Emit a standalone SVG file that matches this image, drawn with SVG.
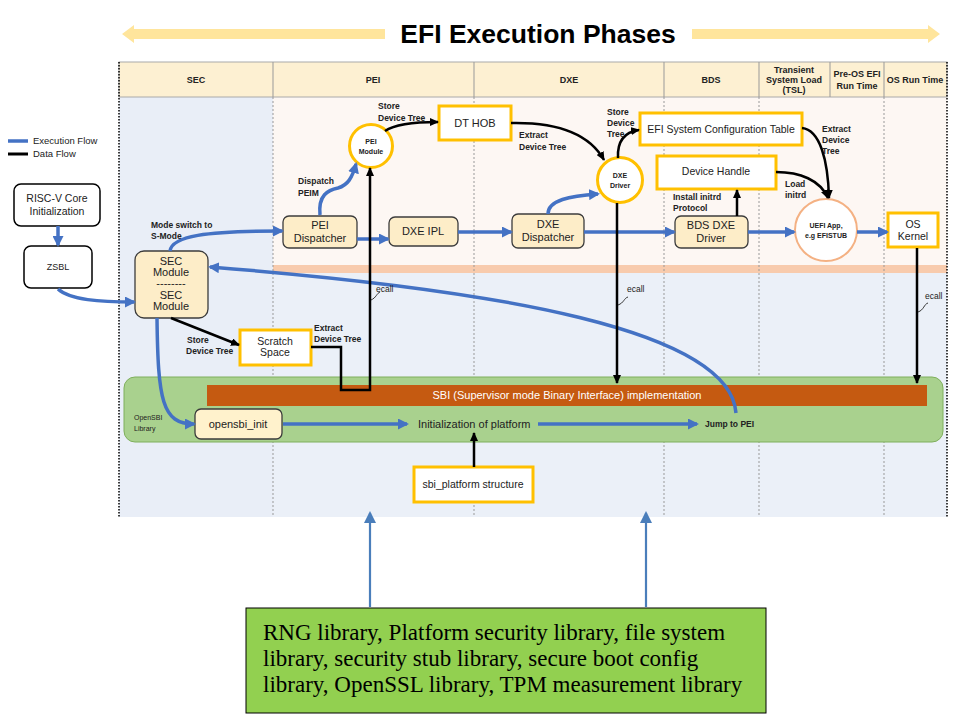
<svg xmlns="http://www.w3.org/2000/svg" width="969" height="719" viewBox="0 0 969 719">
<defs>
<marker id="ab" markerUnits="userSpaceOnUse" markerWidth="11" markerHeight="11" refX="9" refY="5.5" orient="auto"><path d="M0,0 L11,5.5 L0,11 z" fill="#4472C4"/></marker>
<marker id="ak" markerUnits="userSpaceOnUse" markerWidth="9" markerHeight="8" refX="8" refY="4" orient="auto"><path d="M0,0 L9,4 L0,8 z" fill="#000"/></marker>
<marker id="as" markerUnits="userSpaceOnUse" markerWidth="12" markerHeight="12" refX="10" refY="6" orient="auto"><path d="M0,0 L12,6 L0,12 z" fill="#4A7EBB"/></marker>
<style>
text{font-family:"Liberation Sans",Arial,sans-serif;fill:#222}
.h{font-size:9px;font-weight:bold;text-anchor:middle}
.n{font-size:11px;text-anchor:middle}
.s{font-size:10.5px;text-anchor:middle}
.b{font-size:8.5px;font-weight:bold}
.c{font-size:7px;font-weight:bold;text-anchor:middle}
.t{font-family:"Liberation Serif","Times New Roman",serif;font-size:23px;fill:#000}
.tan{fill:#FDEDC8;stroke:#3c3c3c;stroke-width:1.3}
.yel{fill:#fff;stroke:#FFC000;stroke-width:3}
.blk{fill:#fff;stroke:#000;stroke-width:1.5}
.ef{fill:none;stroke:#4472C4;stroke-width:3.5;marker-end:url(#ab)}
.df{fill:none;stroke:#000;stroke-width:2.5;marker-end:url(#ak)}
.ld{fill:none;stroke:#333;stroke-width:1}
.vs{stroke:#999;stroke-width:1;stroke-dasharray:2,2}
</style>
</defs>

<!-- title -->
<g id="title">
<path d="M122,34 L134,25 L134,29 L385,29 L385,39 L134,39 L134,43 z" fill="#FFE59C"/>
<path d="M940,34 L928,25 L928,29 L692,29 L692,39 L928,39 L928,43 z" fill="#FFE59C"/>
<text x="538" y="43" text-anchor="middle" style="font-size:26.5px;font-weight:bold;fill:#000">EFI Execution Phases</text>
</g>

<!-- backgrounds -->
<g id="background">
<rect x="119" y="97" width="154" height="420" fill="#E9EEF7"/>
<rect x="273" y="97" width="674" height="168" fill="#FDF7F3"/>
<rect x="273" y="265" width="674" height="8" fill="#F8CBAD"/>
<rect x="273" y="273" width="674" height="244" fill="#EBF0F8"/>
<rect x="119" y="62" width="828" height="35" fill="#FDF0D2" stroke="#aaa" stroke-width="1"/>
<line x1="273" y1="62" x2="273" y2="97" stroke="#999"/>
<line x1="474" y1="62" x2="474" y2="97" stroke="#999"/>
<line x1="664" y1="62" x2="664" y2="97" stroke="#999"/>
<line x1="759" y1="62" x2="759" y2="97" stroke="#999"/>
<line x1="830" y1="62" x2="830" y2="97" stroke="#999"/>
<line x1="884" y1="62" x2="884" y2="97" stroke="#999"/>
<line class="vs" x1="273" y1="97" x2="273" y2="517"/>
<line class="vs" x1="474" y1="97" x2="474" y2="517"/>
<line class="vs" x1="664" y1="97" x2="664" y2="517"/>
<line class="vs" x1="759" y1="97" x2="759" y2="517"/>
<line class="vs" x1="884" y1="97" x2="884" y2="517"/>
<line x1="119" y1="62" x2="119" y2="517" stroke="#000" stroke-width="1.5" stroke-dasharray="1.5,1.5"/>
<line x1="947" y1="62" x2="947" y2="517" stroke="#000" stroke-width="1.5" stroke-dasharray="1.5,1.5"/>
<text class="h" x="196" y="83">SEC</text>
<text class="h" x="373" y="83">PEI</text>
<text class="h" x="569" y="83">DXE</text>
<text class="h" x="711" y="83">BDS</text>
<text class="h" x="794" y="73">Transient</text>
<text class="h" x="794" y="83">System Load</text>
<text class="h" x="794" y="93">(TSL)</text>
<text class="h" x="857" y="77">Pre-OS EFI</text>
<text class="h" x="857" y="89">Run Time</text>
<text class="h" x="915" y="83">OS Run Time</text>
</g>

<!-- legend -->
<g id="legend">
<line x1="8" y1="141" x2="28" y2="141" stroke="#4472C4" stroke-width="3.5"/>
<text x="33" y="144" style="font-size:9.5px">Execution Flow</text>
<line x1="8" y1="154" x2="28" y2="154" stroke="#000" stroke-width="3"/>
<text x="33" y="157" style="font-size:9.5px">Data Flow</text>
</g>

<!-- OpenSBI -->
<g id="opensbi">
<rect x="124" y="377" width="819" height="65" rx="11" fill="#A9D18E" stroke="#7FAF5C" stroke-width="1"/>
<text x="134" y="420" style="font-size:7px">OpenSBI</text>
<text x="134" y="431" style="font-size:7px">Library</text>
</g>
<g id="sbi">
<rect x="207" y="385" width="720" height="21" fill="#C55A11"/>
<text x="567" y="399" text-anchor="middle" style="font-size:11px;fill:#fff">SBI (Supervisor mode Binary Interface) implementation</text>
</g>

<!-- nodes -->
<g id="riscv"><rect class="blk" x="14" y="184" width="86" height="42" rx="7"/><text class="s" x="57" y="202">RISC-V Core</text><text class="s" x="57" y="215">Initialization</text></g>
<g id="zsbl"><rect class="blk" x="24" y="246" width="68" height="42" rx="7"/><text x="58" y="270" text-anchor="middle" style="font-size:9px">ZSBL</text></g>
<g id="sec"><rect class="tan" x="135" y="251" width="73" height="67" rx="9"/>
<text class="n" x="171" y="265">SEC</text><text class="n" x="171" y="276">Module</text><text class="n" x="171" y="287">--------</text><text class="n" x="171" y="299">SEC</text><text class="n" x="171" y="310">Module</text></g>
<g id="peidisp"><rect class="tan" x="283" y="216" width="74" height="32" rx="6"/><text class="n" x="320" y="229">PEI</text><text class="n" x="320" y="242">Dispatcher</text></g>
<g id="dxeipl"><rect class="tan" x="389" y="217" width="69" height="29" rx="6"/><text class="n" x="423" y="235">DXE IPL</text></g>
<g id="dxedisp"><rect class="tan" x="512" y="214" width="72" height="34" rx="6"/><text class="n" x="548" y="228">DXE</text><text class="n" x="548" y="241">Dispatcher</text></g>
<g id="bdsdxe"><rect class="tan" x="675" y="216" width="73" height="32" rx="6"/><text class="n" x="711" y="229">BDS DXE</text><text class="n" x="711" y="242">Driver</text></g>
<g id="peimod"><circle cx="371" cy="146" r="21.5" fill="#fff" stroke="#FFC000" stroke-width="3"/><text class="c" x="371" y="144">PEI</text><text class="c" x="371" y="154">Module</text></g>
<g id="dthob"><rect class="yel" x="439" y="106" width="72" height="34"/><text class="n" x="475" y="127">DT HOB</text></g>
<g id="dxedrv"><circle cx="620" cy="180" r="22.5" fill="#fff" stroke="#FFC000" stroke-width="3"/><text class="c" x="620" y="178">DXE</text><text class="c" x="620" y="188">Driver</text></g>
<g id="efisct"><rect class="yel" x="640" y="113" width="162" height="32"/><text class="s" x="721" y="133">EFI System Configuration Table</text></g>
<g id="devhandle"><rect class="yel" x="657" y="156" width="119" height="33"/><text class="s" x="716" y="175">Device Handle</text></g>
<g id="uefiapp"><circle cx="826" cy="230" r="31" fill="#fff" stroke="#F4B183" stroke-width="2"/><text class="c" x="826" y="228">UEFI App,</text><text class="c" x="826" y="238">e.g EFISTUB</text></g>
<g id="oskernel"><rect class="yel" x="888" y="213" width="50" height="34"/><text class="s" x="913" y="228">OS</text><text class="s" x="913" y="240">Kernel</text></g>
<g id="scratch"><rect class="yel" x="240" y="330" width="71" height="35"/><text class="s" x="275" y="345">Scratch</text><text class="s" x="275" y="356">Space</text></g>
<g id="opensbiinit"><rect x="195" y="409" width="87" height="30" rx="6" fill="#FFF2CC" stroke="#3c3c3c" stroke-width="1.3"/><text class="n" x="238" y="428">opensbi_init</text></g>
<g id="initplat"><text x="418" y="428" style="font-size:11px">Initialization of platform</text></g>
<g id="jumppei"><text x="705" y="427" style="font-size:8.5px;font-weight:bold">Jump to PEI</text></g>
<g id="sbiplat"><rect class="yel" x="414" y="467" width="119" height="35"/><text class="s" x="473" y="488">sbi_platform structure</text></g>
<g id="libs"><rect x="246" y="608" width="520" height="105" fill="#92D050" stroke="#000" stroke-width="1"/>
<text class="t" x="263" y="640">RNG library, Platform security library, file system</text>
<text class="t" x="263" y="666">library, security stub library, secure boot config</text>
<text class="t" x="263" y="692">library, OpenSSL library, TPM measurement library</text></g>

<!-- connectors -->
<g id="connectors">
<path class="ef" d="M58,226 L58,245"/>
<path class="ef" d="M58,289 C70,300 100,302 134,302"/>
<path class="ef" d="M170,251 C172,236 205,231 282,231"/>
<path class="ef" d="M357,239 L388,239"/>
<path class="ef" d="M458,232 L511,232"/>
<path class="ef" d="M584,232 L674,232"/>
<path class="ef" d="M748,232 L794,232"/>
<path class="ef" d="M857,232 L887,232"/>
<path class="ef" d="M320,215 C318,195 328,190 338,188 C348,185 352,178 356,164"/>
<path class="ef" d="M548,214 C548,200 570,196 598,194"/>
<path class="ef" d="M736,413 C730,330 500,290 210,267"/>
<path class="ef" d="M157,318 C158,400 162,424 194,424"/>
<path class="ef" d="M283,424 L407,424"/>
<path class="ef" d="M538,424 L697,424"/>
<path class="df" d="M385,131 C395,124 415,122 438,122"/>
<path class="df" d="M511,123 C560,122 590,135 604,160"/>
<path class="df" d="M618,158 C617,140 625,132 639,130"/>
<path class="df" d="M737,216 L737,190"/>
<path class="df" d="M776,172 C800,172 820,180 828,198"/>
<path class="df" d="M802,128 C820,130 828,160 829,198"/>
<path class="df" d="M171,318 L239,345"/>
<path class="df" d="M311,347 L341,347 L341,390 L370,390 L370,168"/>
<path class="df" d="M617,203 L617,383"/>
<path class="df" d="M917,248 L917,383"/>
<path class="df" d="M474,467 L474,433"/>
<path d="M370,607 L370,513" fill="none" stroke="#4A7EBB" stroke-width="2.2" marker-end="url(#as)"/>
<path d="M646,607 L646,513" fill="none" stroke="#4A7EBB" stroke-width="2.2" marker-end="url(#as)"/>
<path class="ld" d="M371,300 C376,298 377,293 380,292"/>
<path class="ld" d="M618,305 C624,303 624,298 628,297"/>
<path class="ld" d="M918,312 C924,310 924,304 928,303"/>
</g>

<!-- labels -->
<g id="labels">
<text class="b" x="151" y="228">Mode switch to</text>
<text class="b" x="151" y="239">S-Mode</text>
<text class="b" x="298" y="184">Dispatch</text>
<text class="b" x="298" y="196">PEIM</text>
<text class="b" x="378" y="109">Store</text>
<text class="b" x="378" y="121">Device Tree</text>
<text class="b" x="519" y="138">Extract</text>
<text class="b" x="519" y="150">Device Tree</text>
<text class="b" x="607" y="115">Store</text>
<text class="b" x="607" y="126">Device</text>
<text class="b" x="607" y="137">Tree</text>
<text class="b" x="822" y="132">Extract</text>
<text class="b" x="822" y="143">Device</text>
<text class="b" x="822" y="154">Tree</text>
<text class="b" x="673" y="200">Install initrd</text>
<text class="b" x="673" y="211">Protocol</text>
<text class="b" x="785" y="187">Load</text>
<text class="b" x="785" y="198">initrd</text>
<text class="b" x="187" y="343">Store</text>
<text class="b" x="186" y="354">Device Tree</text>
<text class="b" x="314" y="331">Extract</text>
<text class="b" x="314" y="342">Device Tree</text>
<text x="376" y="292" style="font-size:8.5px">ecall</text>
<text x="627" y="292" style="font-size:8.5px">ecall</text>
<text x="925" y="299" style="font-size:8.5px">ecall</text>
</g>
</svg>
